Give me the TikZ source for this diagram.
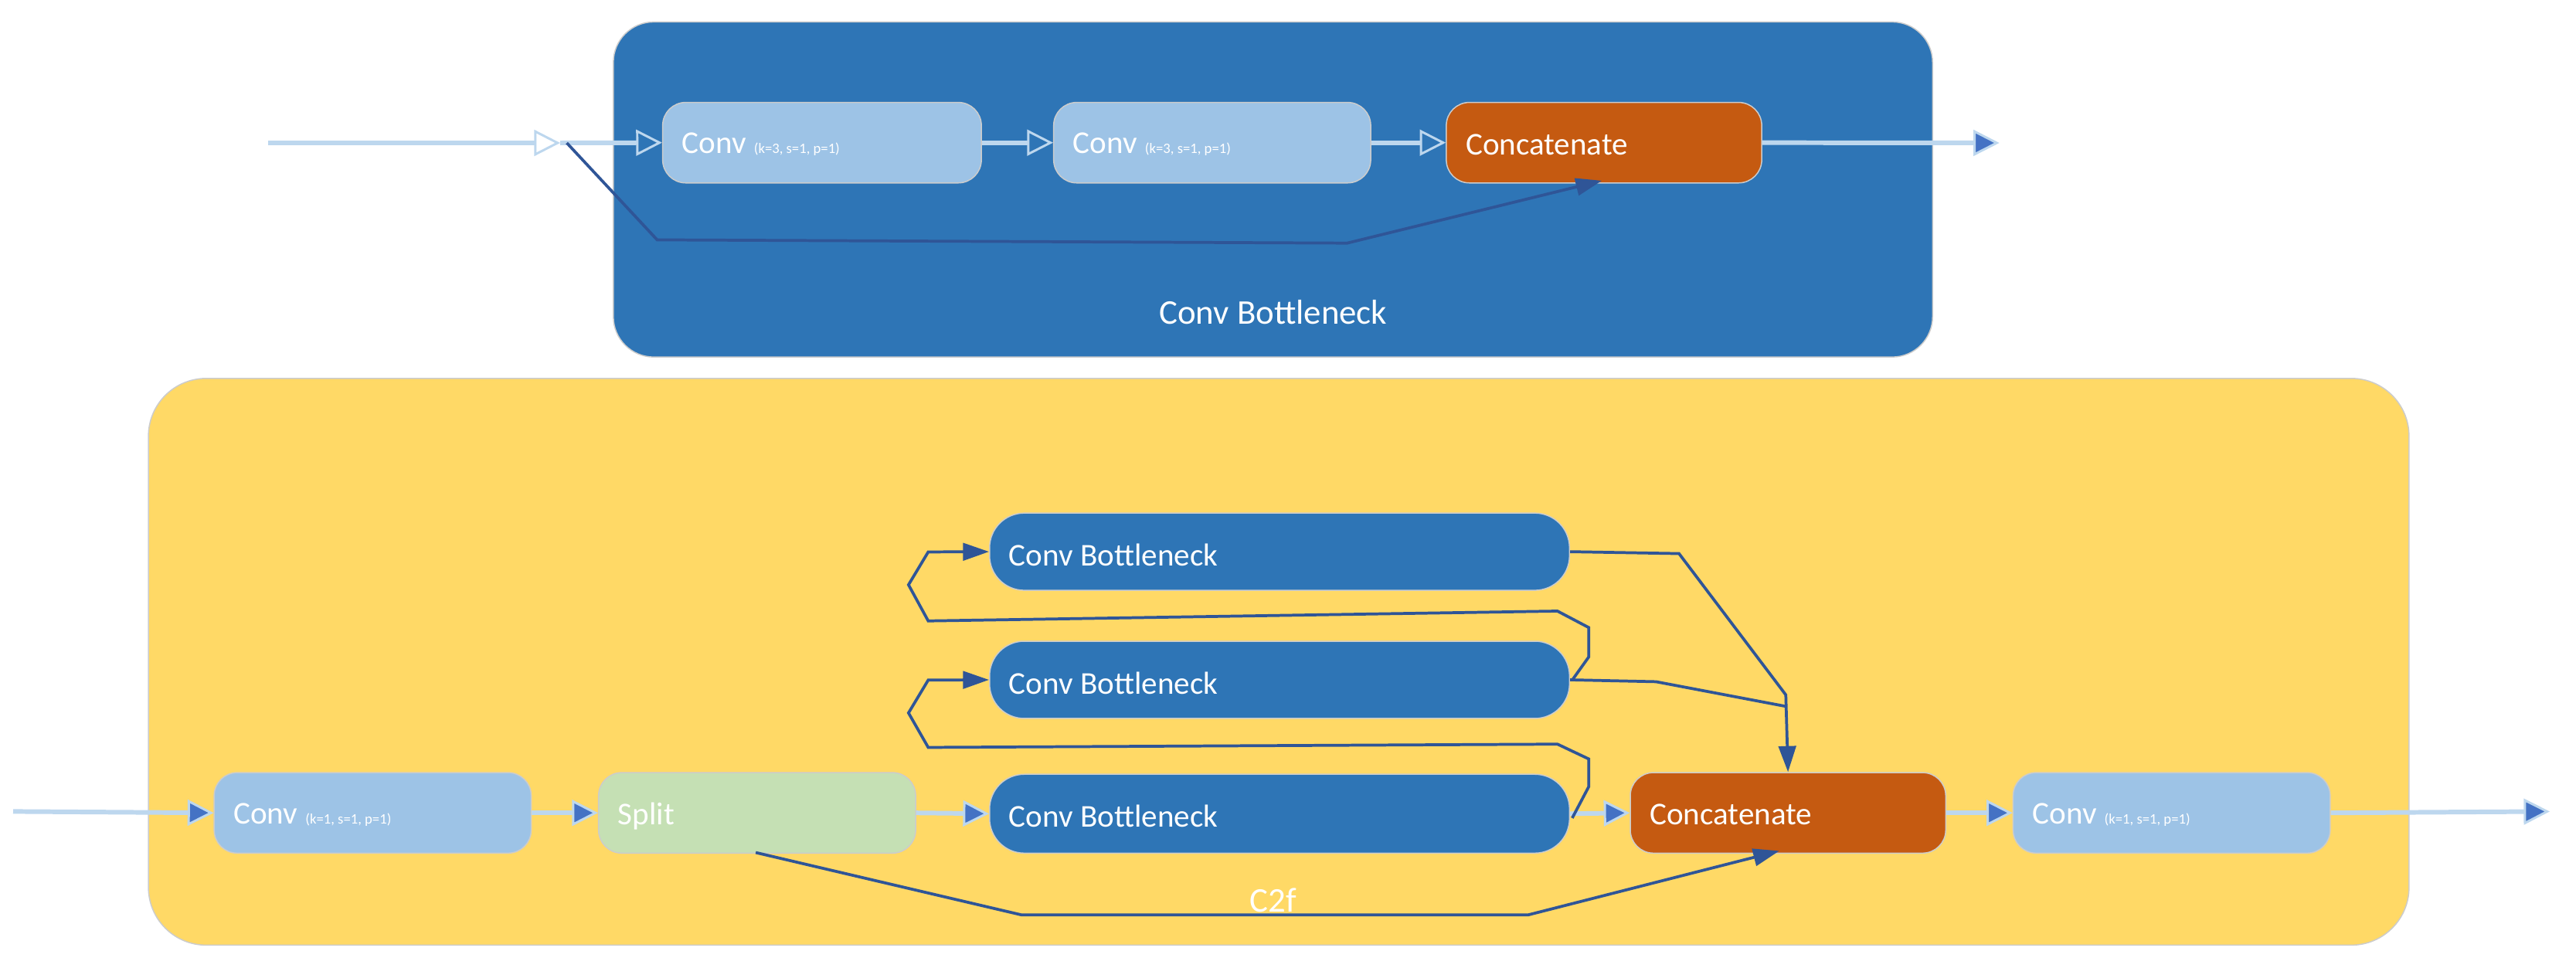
\documentclass[tikz,border=0pt]{standalone}
\usepackage{fontspec}
\setmainfont{Carlito}
\usetikzlibrary{arrows.meta}
\definecolor{dblue}{HTML}{2E75B6}
\definecolor{lblue}{HTML}{9DC3E6}
\definecolor{pale}{HTML}{BDD7EE}
\definecolor{tipb}{HTML}{4472C4}
\definecolor{navy}{HTML}{2F5597}
\definecolor{orng}{HTML}{C55A11}
\definecolor{yel}{HTML}{FFD966}
\definecolor{grn}{HTML}{C5E0B4}
\begin{document}
\begin{tikzpicture}[x=0.02cm,y=-0.02cm,
 blk/.style={draw=white!80!black,line width=0.4pt,rounded corners=8pt,inner sep=0pt,anchor=north west,text=white,font=\fontsize{11}{12}\selectfont},
 flow/.style={draw=pale,line width=1.6pt,-{Triangle[length=9pt,width=9pt,fill=tipb,color=pale,line width=0.8pt]}},
 oflow/.style={draw=pale,line width=1.6pt,-{Triangle[open,length=9pt,width=9pt,color=pale,line width=0.8pt]}},
 skip/.style={draw=navy,line width=1pt,-{Triangle[length=9pt,width=6pt]}},
 skipn/.style={draw=navy,line width=1pt}]
\useasboundingbox (0,0) rectangle (1568,589);
% top container
\node[blk,fill=dblue,rounded corners=14pt,minimum width=803*0.02cm,minimum height=204*0.02cm] (top) at (373,13) {};
\node[text=white,font=\fontsize{12}{14}\selectfont] (toplab) at (775,190) {Conv Bottleneck};
\node[blk,fill=lblue,minimum width=194*0.02cm,minimum height=49*0.02cm] (c1) at (403,62) {};
\node[anchor=west,text=white,font=\fontsize{11}{12}\selectfont] (c1t) at (409,88) {Conv\,{\fontsize{5}{6}\selectfont\,(k=3, s=1, p=1)}};
\node[blk,fill=lblue,minimum width=193*0.02cm,minimum height=49*0.02cm] (c2) at (641,62) {};
\node[anchor=west,text=white,font=\fontsize{11}{12}\selectfont] (c2t) at (647,88) {Conv\,{\fontsize{5}{6}\selectfont\,(k=3, s=1, p=1)}};
\node[blk,fill=orng,minimum width=192*0.02cm,minimum height=49*0.02cm] (cc) at (880,62) {};
\node[anchor=west,text=white,font=\fontsize{11}{12}\selectfont] (cct) at (886,88) {Concatenate};
\coordinate (tin) at (163,87);
\coordinate (tin2) at (341,87);
\coordinate (tout) at (1217,87);
\draw[oflow] (tin) -- (tin2);
\draw[oflow] (tin2) -- (c1.west);
\draw[oflow] (c1.east) -- (c2.west);
\draw[oflow] (c2.east) -- (cc.west);
\draw[flow] (cc.east) -- (tout);
\draw[skip] (345,87) -- (400,146) -- (820,148) -- (975,110);
% bottom container
\node[blk,fill=yel,rounded corners=20pt,minimum width=1376*0.02cm,minimum height=345*0.02cm] (bot) at (90,230) {};
\node[text=white,font=\fontsize{12}{14}\selectfont] (botlab) at (775,548) {C2f};
\node[blk,fill=lblue,minimum width=193*0.02cm,minimum height=49*0.02cm] (ca) at (130,470) {};
\node[anchor=west,text=white,font=\fontsize{11}{12}\selectfont] (cat) at (136,496) {Conv\,{\fontsize{5}{6}\selectfont\,(k=1, s=1, p=1)}};
\node[blk,fill=grn,minimum width=193*0.02cm,minimum height=49*0.02cm] (sp) at (364,470) {};
\node[anchor=west,text=white,font=\fontsize{11}{12}\selectfont] (spt) at (370,497) {Split};
\node[blk,fill=dblue,rounded corners=12pt,minimum width=353*0.02cm,minimum height=48*0.02cm] (b3) at (602,471) {};
\node[anchor=west,text=white,font=\fontsize{11}{12}\selectfont] (b3t) at (608,497) {Conv Bottleneck};
\node[blk,fill=dblue,rounded corners=12pt,minimum width=353*0.02cm,minimum height=47*0.02cm] (b2) at (602,390) {};
\node[anchor=west,text=white,font=\fontsize{11}{12}\selectfont] (b2t) at (608,416) {Conv Bottleneck};
\node[blk,fill=dblue,rounded corners=12pt,minimum width=353*0.02cm,minimum height=47*0.02cm] (b1) at (602,312) {};
\node[anchor=west,text=white,font=\fontsize{11}{12}\selectfont] (b1t) at (608,338) {Conv Bottleneck};
\node[blk,fill=orng,minimum width=192*0.02cm,minimum height=49*0.02cm] (c3) at (992,470) {};
\node[anchor=west,text=white,font=\fontsize{11}{12}\selectfont] (c3t) at (998,496) {Concatenate};
\node[blk,fill=lblue,minimum width=193*0.02cm,minimum height=49*0.02cm] (cb) at (1225,470) {};
\node[anchor=west,text=white,font=\fontsize{11}{12}\selectfont] (cbt) at (1231,496) {Conv\,{\fontsize{5}{6}\selectfont\,(k=1, s=1, p=1)}};
\coordinate (bin) at (8,494);
\coordinate (bout) at (1552,494);
\draw[flow] (bin) -- (ca.west);
\draw[flow] (ca.east) -- (sp.west);
\draw[flow] (sp.east) -- (b3.west);
\draw[flow] (b3.east) -- (c3.west);
\draw[flow] (c3.east) -- (cb.west);
\draw[flow] (cb.east) -- (bout);
% feedback loops
\draw[skip] (957,498) -- (967,479) -- (967,462) -- (948,453) -- (565,455) -- (553,434) -- (565,414) -- (b2.west);
\draw[skip] (957,414) -- (967,400) -- (967,382) -- (948,372) -- (565,378) -- (553,356) -- (565,336) -- (b1.west);
\draw[skip] (b1.east) -- (1022,337) -- (1087,423) -- (c3.north);
\draw[skipn] (b2.east) -- (1008,415) -- (1087,430);
\draw[skip] (460,519) -- (622,557) -- (930,557) -- (1083,518);
\end{tikzpicture}
\end{document}
